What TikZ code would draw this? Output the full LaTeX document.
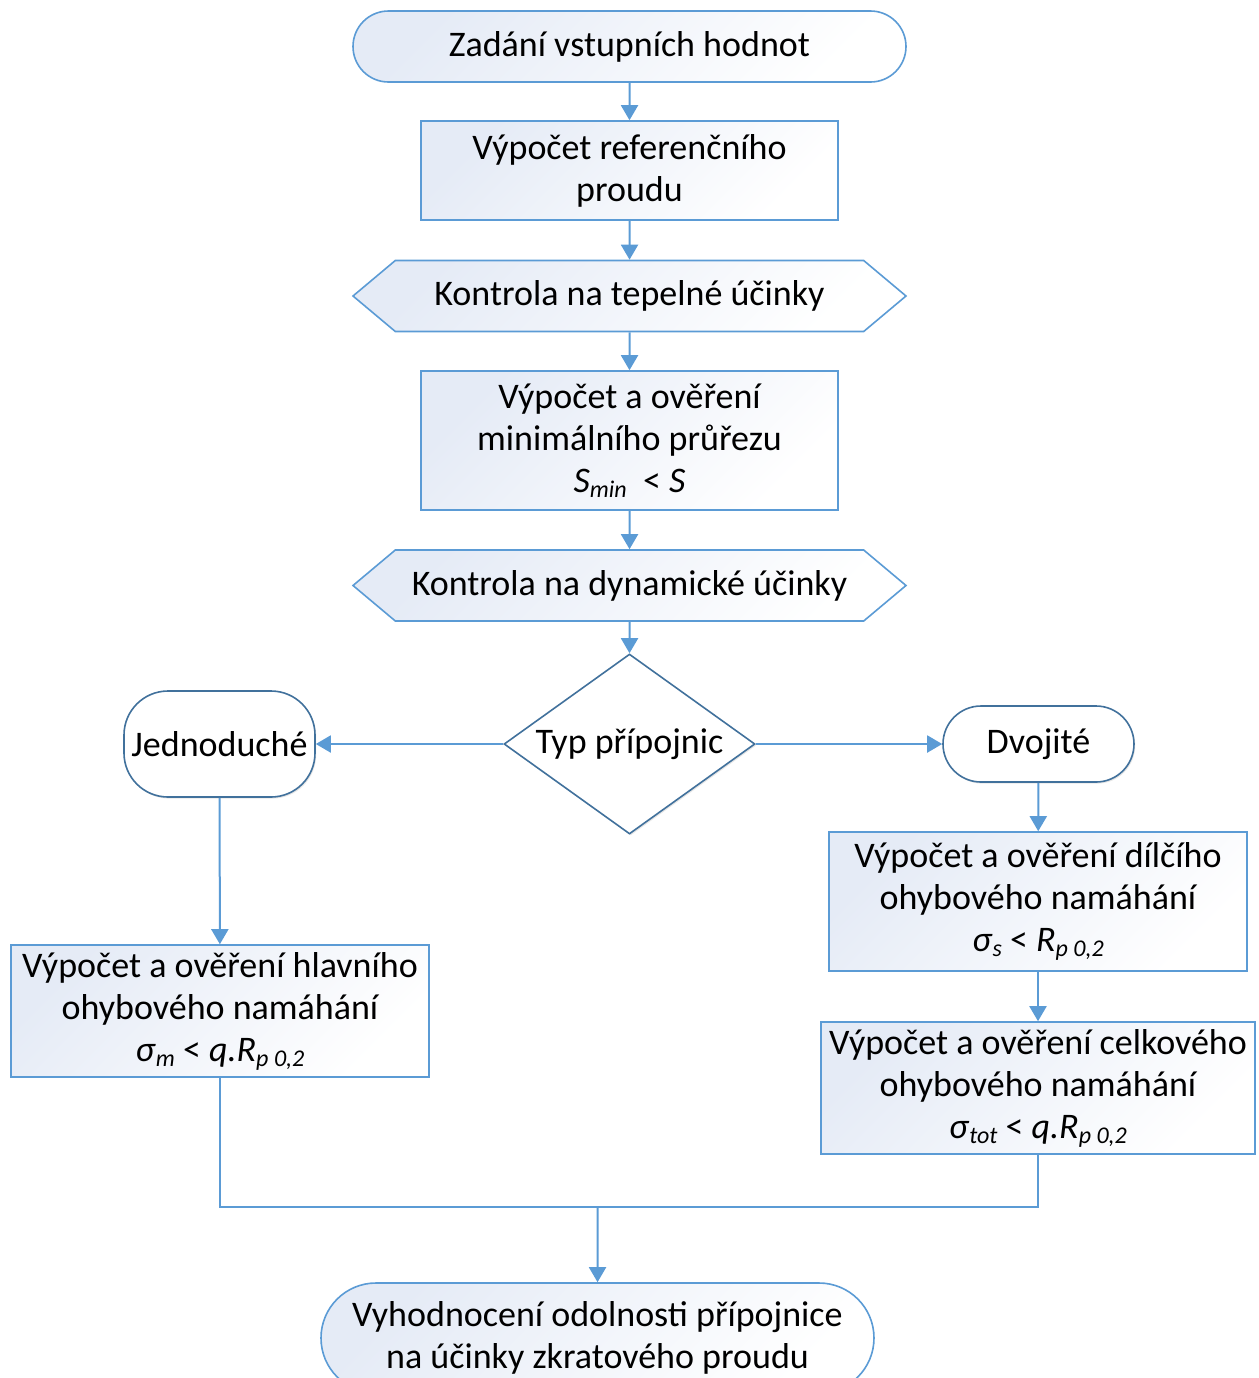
\documentclass[tikz,border=0pt]{standalone}
\usepackage{fontspec}
\setmainfont{Carlito}
\usetikzlibrary{arrows.meta,shapes.misc,shapes.geometric,shapes.symbols,shadows}

\definecolor{linkblue}{HTML}{5B9BD5}
\definecolor{darkblue}{HTML}{41719C}
\definecolor{paleblue}{HTML}{E5EBF6}

% small italic subscript
\newcommand{\lo}[1]{\raisebox{-0.3ex}{\fontsize{12}{12}\selectfont\itshape #1}}

\begin{document}
\begin{tikzpicture}[x=0.5pt,y=-0.5pt,
    every node/.style={font=\fontsize{18}{21}\selectfont, align=center, inner sep=0pt},
    box/.style={draw=linkblue, line width=0.8pt, top color=paleblue, bottom color=white, shading angle=45},
    term/.style={box, rounded rectangle, minimum width=276.5pt, minimum height=35.5pt},
    hexa/.style={box, signal, signal to=west and east, signal pointer angle=80,
                 minimum width=276.5pt, minimum height=35.5pt},
    pick/.style={draw=darkblue, line width=0.8pt, fill=white,
                 drop shadow={shadow xshift=0.6pt, shadow yshift=-0.8pt, opacity=0.2}},
    choice/.style={pick, diamond, aspect=1.4, minimum width=125.5pt, minimum height=90pt}]

        \useasboundingbox (0,0) rectangle (1259,1378);

        \node[term] (1) at (629.5,46.5) {Zadání vstupních hodnot};
        \node[box, minimum width=208.5pt, minimum height=49.5pt] (2) at (629.5,170.5)
          {Výpočet referenčního\\proudu};
        \node[hexa] (3) at (629.5,296) {Kontrola na tepelné účinky};
        \node[box, minimum width=208.5pt, minimum height=69.5pt] (4) at (629.5,440.5)
          {Výpočet a ověření\\minimálního průřezu\\\textit{S}\lo{min}\ \ < \textit{S}};
        \node[hexa] (5) at (629.5,585.5) {Kontrola na dynamické účinky};
        \node[choice] (6) at (629.5,744) {Typ přípojnic};
        \node[pick, rounded corners=22pt, minimum width=95.5pt, minimum height=53pt] (7)
          at (219.5,744) {Jednoduché};
        \node[pick, rounded rectangle, minimum width=95.5pt, minimum height=38pt] (8)
          at (1038.5,744) {Dvojité};
        \node[box, minimum width=209pt, minimum height=66pt] (9) at (220,1011)
          {Výpočet a ověření hlavního\\ohybového namáhání\\\textit{σ}\lo{m} < \textit{q.R}\lo{p 0,2}};
        \node[box, minimum width=209pt, minimum height=69.5pt] (10) at (1038,901.5)
          {Výpočet a ověření dílčího\\ohybového namáhání\\\textit{σ}\lo{s} < \textit{R}\lo{p 0,2}};
        \node[box, minimum width=217pt, minimum height=66pt] (11) at (1038,1088)
          {Výpočet a ověření celkového\\ohybového namáhání\\\textit{σ}\lo{tot} < \textit{q.R}\lo{p 0,2}};
        \node[term, minimum height=55pt] (12) at (597.5,1338)
          {Vyhodnocení odolnosti přípojnice\\na účinky zkratového proudu};
        \coordinate (m) at (597.5,1207);

        \begin{scope}[every edge/.style={draw=linkblue, line width=1pt,
                        -{Triangle[length=7.5pt,width=8.5pt]}}]
          \path (1) edge (2);
          \path (2) edge (3);
          \path (3) edge (4);
          \path (4) edge (5);
          \path (5) edge (6);
          \path (6) edge (7);
          \path (6) edge (8);
          \path (7) edge (9);
          \path (8) edge (10);
          \path (10) edge (11);
          \path (m) edge (12);
        \end{scope}

        \draw[linkblue, line width=1pt] (9.south) |- (m) -| (11.south);

      \end{tikzpicture}
\end{document}
